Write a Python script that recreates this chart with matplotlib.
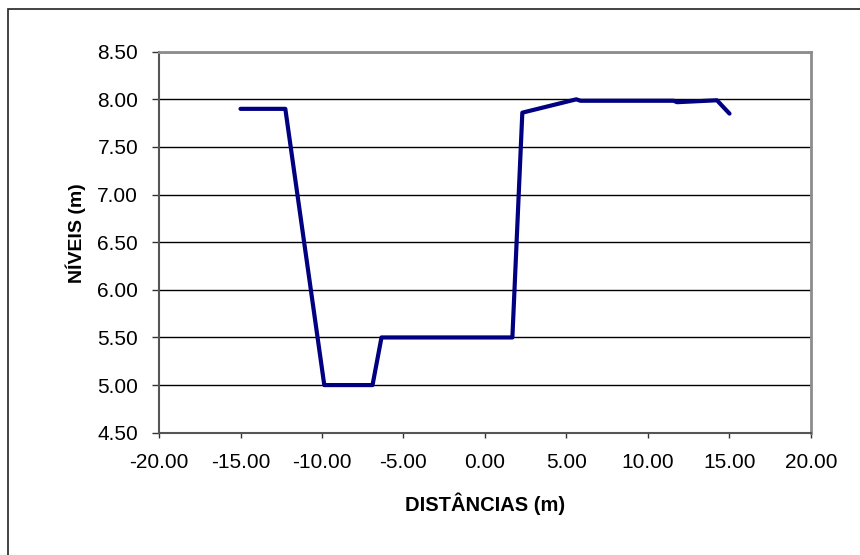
import matplotlib
matplotlib.use('Agg')
import matplotlib.pyplot as plt
from matplotlib.patches import Rectangle

plt.rcParams['font.family'] = ['Liberation Sans', 'DejaVu Sans']

distancias = [-15.0, -12.25, -9.86, -6.9, -6.35, 1.68, 2.29, 5.6, 5.86, 11.57, 11.78, 14.23, 15.0]
niveis = [7.90, 7.90, 5.00, 5.00, 5.50, 5.50, 7.86, 8.00, 7.985, 7.985, 7.97, 7.99, 7.85]

xticks = [-20, -15, -10, -5, 0, 5, 10, 15, 20]
yticks = [4.5, 5.0, 5.5, 6.0, 6.5, 7.0, 7.5, 8.0, 8.5]

fig = plt.figure(figsize=(8.6, 5.55), dpi=100)
ax = fig.add_axes([159 / 860, 1 - 432.7 / 555, (811 - 159) / 860, (432.7 - 51.7) / 555])

ax.plot(distancias, niveis, color='#000080', linewidth=3.0,
        solid_joinstyle='round', solid_capstyle='round', zorder=3)

ax.set_xlim(-20, 20)
ax.set_ylim(4.5, 8.5)
ax.set_xticks(xticks)
ax.set_yticks(yticks)
ax.set_xticklabels(['%.2f' % v for v in xticks], fontsize=15)
ax.set_yticklabels(['%.2f' % v for v in yticks], fontsize=15)
ax.tick_params(axis='x', direction='out', length=3.6, width=1.0, color='#333333', pad=11)
ax.tick_params(axis='y', direction='out', length=5, width=1.0, color='#333333', pad=10)

ax.yaxis.grid(True, color='black', linewidth=1.0)
ax.set_axisbelow(True)

for side in ['top', 'right']:
    ax.spines[side].set_color('#8c8c8c')
    ax.spines[side].set_linewidth(2.0)
for side in ['left', 'bottom']:
    ax.spines[side].set_color('#555555')
    ax.spines[side].set_linewidth(1.5)

ax.set_xlabel('DISTÂNCIAS (m)', fontsize=14.5, fontweight='bold')
ax.xaxis.set_label_coords(0.5, -0.156)
ax.set_ylabel('NÍVEIS (m)', fontsize=14, fontweight='bold')
ax.yaxis.set_label_coords(-0.112, 0.523)

# outer chart border (only top and left edges fall inside the image)
fig.patches.append(Rectangle((8 / 860, -0.1), 1.2, 1.1 - 8.5 / 555, transform=fig.transFigure,
                             fill=False, edgecolor='#222222', linewidth=1.2))

fig.savefig('out.png', dpi=100)
